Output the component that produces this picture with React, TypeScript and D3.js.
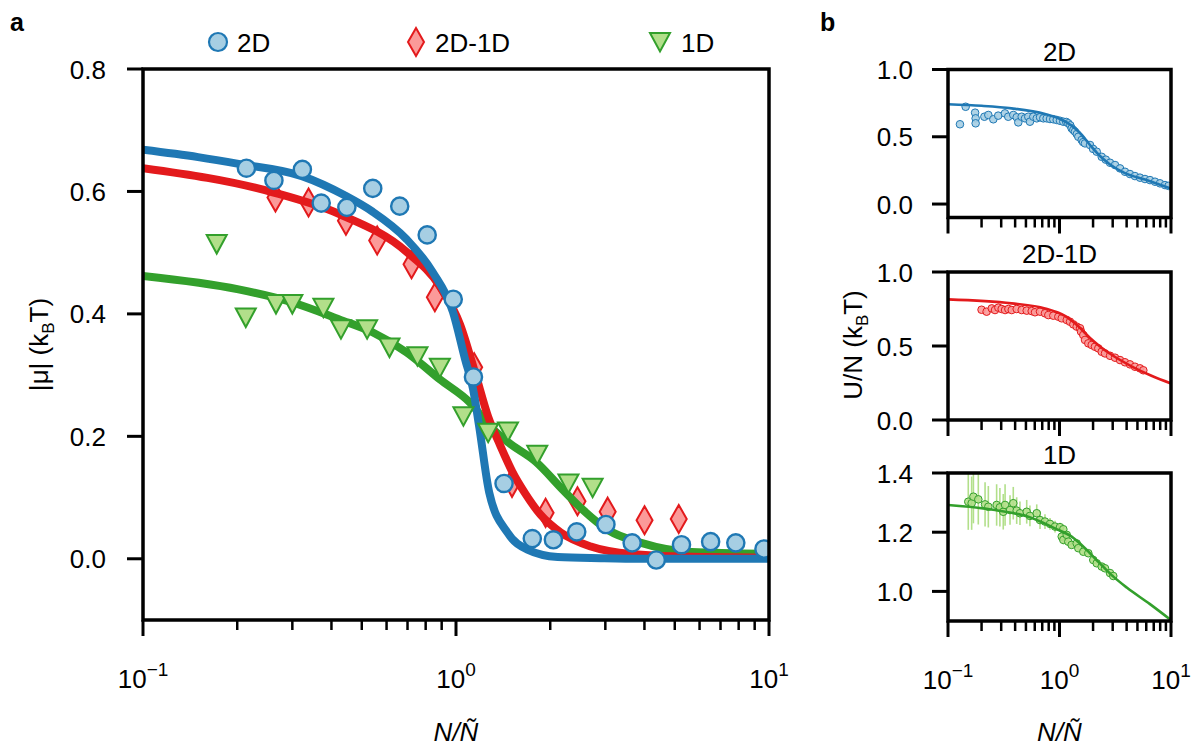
import React from 'react';
import * as d3 from 'd3';

// ---- panel a: |mu| against N/Ñ (markers)
const x2D = [0.214, 0.262, 0.323, 0.371, 0.448, 0.542, 0.661, 0.809, 0.980, 1.137, 1.424, 1.753, 2.047, 2.431, 3.013, 3.654, 4.364, 5.253, 6.509, 7.833, 9.636];
const mu2D = [0.638, 0.618, 0.636, 0.581, 0.574, 0.605, 0.576, 0.529, 0.424, 0.297, 0.123, 0.033, 0.031, 0.044, 0.056, 0.026, -0.002, 0.023, 0.028, 0.026, 0.016];

const x2D1D = [0.265, 0.338, 0.445, 0.560, 0.721, 0.856, 1.143, 1.510, 1.933, 2.444, 3.052, 4.003, 5.148];
const mu2D1D = [0.590, 0.582, 0.552, 0.520, 0.481, 0.427, 0.313, 0.124, 0.075, 0.094, 0.077, 0.063, 0.065];

const x1D = [0.172, 0.213, 0.266, 0.300, 0.377, 0.429, 0.520, 0.613, 0.753, 0.888, 1.056, 1.267, 1.466, 1.818, 2.287, 2.732];
const mu1D = [0.514, 0.394, 0.416, 0.416, 0.410, 0.375, 0.375, 0.345, 0.331, 0.312, 0.233, 0.206, 0.208, 0.170, 0.123, 0.116];

// ---- panel a: fitted curves
const fitX2D = [0.1, 0.15, 0.202, 0.322, 0.447, 0.541, 0.695, 0.843, 0.978, 1.069, 1.134, 1.186, 1.277, 1.459, 1.692, 2.113, 2.9, 3.905, 10];
const fitY2D = [0.668, 0.656, 0.645, 0.625, 0.592, 0.567, 0.522, 0.468, 0.403, 0.326, 0.277, 0.216, 0.108, 0.043, 0.015, 0.003, 0.001, 0.0, 0.0];

const fitX2D1D = [0.1, 0.258, 0.424, 0.696, 0.888, 1.030, 1.151, 1.267, 1.385, 1.514, 1.667, 1.862, 2.16, 2.697, 3.627, 6.09, 10];
const fitY2D1D = [0.638, 0.599, 0.563, 0.501, 0.445, 0.383, 0.304, 0.232, 0.185, 0.142, 0.106, 0.072, 0.043, 0.020, 0.008, 0.003, 0.002];

const fitX1D = [0.1, 0.202, 0.299, 0.424, 0.541, 0.696, 0.888, 1.109, 1.286, 1.470, 1.795, 2.192, 2.542, 3.059, 3.905, 5.654, 10];
const fitY1D = [0.462, 0.440, 0.419, 0.391, 0.370, 0.337, 0.293, 0.255, 0.216, 0.190, 0.159, 0.113, 0.080, 0.047, 0.026, 0.011, 0.008];

// ---- panel b: U/N against N/Ñ
const bX2D = [0.128, 0.144, 0.175, 0.177, 0.177, 0.212, 0.230, 0.255, 0.282, 0.324, 0.347, 0.385, 0.413, 0.427, 0.458, 0.491, 0.525, 0.543, 0.582, 0.625, 0.669, 0.716, 0.767, 0.822, 0.880, 0.944, 1.010, 1.082, 1.15, 1.199, 1.25, 1.285, 1.33, 1.377, 1.43, 1.475, 1.580, 1.63, 1.693, 1.878, 2.0, 2.157, 2.390, 2.6, 2.838, 3.148, 3.490, 3.867, 4.285, 4.750, 5.268, 5.843, 6.480, 7.187, 7.965, 8.835, 9.5];
const bU2D = [0.593, 0.723, 0.679, 0.637, 0.600, 0.649, 0.662, 0.630, 0.657, 0.674, 0.649, 0.662, 0.645, 0.607, 0.649, 0.637, 0.649, 0.612, 0.649, 0.637, 0.645, 0.637, 0.637, 0.632, 0.630, 0.625, 0.619, 0.612, 0.610, 0.600, 0.585, 0.563, 0.550, 0.538, 0.520, 0.500, 0.476, 0.460, 0.451, 0.439, 0.410, 0.389, 0.351, 0.330, 0.307, 0.290, 0.265, 0.240, 0.223, 0.208, 0.196, 0.186, 0.178, 0.166, 0.154, 0.141, 0.135];

const bX2D1D = [0.200, 0.222, 0.247, 0.264, 0.283, 0.303, 0.325, 0.348, 0.373, 0.413, 0.458, 0.508, 0.563, 0.603, 0.669, 0.741, 0.794, 0.880, 0.976, 1.047, 1.161, 1.242, 1.331, 1.426, 1.528, 1.560, 1.634, 1.693, 1.813, 1.944, 2.081, 2.229, 2.390, 2.560, 2.838, 3.148, 3.490, 3.867, 4.285, 4.750, 5.268, 5.645];
const bU2D1D = [0.745, 0.732, 0.754, 0.743, 0.759, 0.750, 0.743, 0.750, 0.743, 0.750, 0.743, 0.739, 0.736, 0.728, 0.732, 0.721, 0.709, 0.705, 0.698, 0.687, 0.676, 0.664, 0.646, 0.631, 0.620, 0.597, 0.574, 0.541, 0.518, 0.507, 0.495, 0.484, 0.461, 0.450, 0.434, 0.421, 0.405, 0.390, 0.376, 0.360, 0.349, 0.336];

const bX1D = [0.152, 0.163, 0.169, 0.187, 0.215, 0.230, 0.273, 0.292, 0.313, 0.325, 0.360, 0.385, 0.413, 0.442, 0.508, 0.543, 0.625, 0.669, 0.741, 0.822, 0.912, 1.010, 1.082, 1.047, 1.082, 1.161, 1.199, 1.285, 1.426, 1.475, 1.634, 1.813, 2.009, 2.157, 2.390, 2.560, 2.838, 3.036];
const bU1D = [1.303, 1.298, 1.320, 1.311, 1.294, 1.286, 1.292, 1.284, 1.269, 1.292, 1.275, 1.298, 1.273, 1.264, 1.269, 1.255, 1.264, 1.241, 1.236, 1.228, 1.219, 1.217, 1.210, 1.185, 1.174, 1.191, 1.168, 1.157, 1.162, 1.146, 1.134, 1.129, 1.106, 1.095, 1.084, 1.078, 1.062, 1.052];
const bErr1D = [0.095, 0.09, 0.09, 0.085, 0.075, 0.07, 0.07, 0.065, 0.06, 0.07, 0.05, 0.055, 0.045, 0.04, 0.04, 0.035, 0.03, 0.03, 0.025, 0.02, 0.02, 0.015, 0.015, 0.015, 0.015, 0.012, 0.012, 0.01, 0.01, 0.01, 0.01, 0.008, 0.008, 0.008, 0.008, 0.008, 0.008, 0.008];

const bFitX2D = [0.1, 0.2, 0.372, 0.741, 1.010, 1.242, 1.528, 1.878, 2.308, 2.838, 3.867, 5.843, 7.64, 10];
const bFitY2D = [0.742, 0.730, 0.711, 0.669, 0.632, 0.591, 0.528, 0.439, 0.357, 0.294, 0.230, 0.182, 0.149, 0.115];
const bFitX2D1D = [0.1, 0.372, 0.741, 1.119, 1.466, 1.878, 2.308, 2.958, 4.467, 6.76, 10];
const bFitY2D1D = [0.815, 0.788, 0.754, 0.703, 0.635, 0.554, 0.497, 0.439, 0.361, 0.297, 0.247];
const bFitX1D = [0.1, 0.264, 0.525, 0.912, 1.285, 1.693, 2.229, 2.938, 4.01, 6.48, 10];
const bFitY1D = [1.292, 1.275, 1.252, 1.213, 1.185, 1.146, 1.100, 1.055, 1.013, 0.957, 0.903];

const yTicksA = [0, 0.2, 0.4, 0.6, 0.8];
const decades = [0.1, 1, 10];
const decadeExp = ['\u22121', '0', '1'];
const minorX = [0.2, 0.3, 0.4, 0.5, 0.6, 0.7, 0.8, 0.9, 2, 3, 4, 5, 6, 7, 8, 9];

const FONT = '"Liberation Sans", Arial, Helvetica, sans-serif';
const FS = 26;
const COL = {
    blue: '#1f78b4', blueL: '#a6cee3',
    red: '#e31a1c', redL: '#fb9a99',
    green: '#33a02c', greenL: '#b2df8a',
};

// panel a layout
const A = {left: 143, right: 769, top: 69, bottom: 620};
const xA = d3.scaleLog().domain([0.1, 10]).range([A.left, A.right]);
const yA = d3.scaleLinear().domain([-0.1, 0.8]).range([A.bottom, A.top]);

// panel b layout
const B = {left: 948, right: 1171, h: 148};
const xB = d3.scaleLog().domain([0.1, 10]).range([B.left, B.right]);
const subplots = [
    {title: '2D', top: 69.5, domain: [-0.1, 1.0], ticks: [0, 0.5, 1.0], xs: bX2D, ys: bU2D, fx: bFitX2D, fy: bFitY2D, c: COL.blue, cl: COL.blueL},
    {title: '2D-1D', top: 272, domain: [0, 1.0], ticks: [0, 0.5, 1.0], xs: bX2D1D, ys: bU2D1D, fx: bFitX2D1D, fy: bFitY2D1D, c: COL.red, cl: COL.redL},
    {title: '1D', top: 473, domain: [0.9, 1.4], ticks: [1.0, 1.2, 1.4], xs: bX1D, ys: bU1D, fx: bFitX1D, fy: bFitY1D, c: COL.green, cl: COL.greenL},
];

const curvePath = (xs: number[], ys: number[], sx: any, sy: any) =>
    d3.line<number>()
        .x((_, i) => sx(xs[i]))
        .y(d => sy(d))
        .curve(d3.curveMonotoneX)(ys) || '';

const diamond = 'M0,-14 L8,0 L0,14 L-8,0 Z';
const triDown = 'M-10,-9 L10,-9 L0,9.5 Z';

const XTicks = ({sx, y, labels}: {sx: any, y: number, labels: boolean}) => (
    <g>
        {decades.map(v => (
            <line key={'M' + v} x1={sx(v)} x2={sx(v)} y1={y} y2={y + 16} stroke="#000" strokeWidth={3}/>
        ))}
        {minorX.map(v => (
            <line key={'m' + v} x1={sx(v)} x2={sx(v)} y1={y} y2={y + 10} stroke="#000" strokeWidth={2.5}/>
        ))}
        {labels && decades.map((v, i) => (
            <text key={'L' + v} x={sx(v)} y={y + 68} textAnchor="middle" fontSize={FS}>
                10<tspan dy={-12} fontSize={19}>{decadeExp[i]}</tspan>
            </text>
        ))}
    </g>
);

export default function App() {
    return (
        <svg width={1193} height={751} style={{position: 'absolute', left: 0, top: 0, background: '#fff'}}
             fontFamily={FONT}>
            {/* ---------- panel a ---------- */}
            <text x={10} y={31} fontSize={25} fontWeight="bold">a</text>

            {/* legend */}
            <circle cx={218} cy={42} r={9} fill={COL.blueL} stroke={COL.blue} strokeWidth={2.2}/>
            <text x={237} y={51.5} fontSize={FS}>2D</text>
            <path d={diamond} transform="translate(416,42)" fill={COL.redL} stroke={COL.red} strokeWidth={2}/>
            <text x={435} y={51.5} fontSize={FS}>2D-1D</text>
            <path d={triDown} transform="translate(660,42)" fill={COL.greenL} stroke={COL.green} strokeWidth={2}/>
            <text x={681} y={51.5} fontSize={FS}>1D</text>

            <defs>
                <clipPath id="clipA">
                    <rect x={A.left} y={A.top} width={A.right - A.left} height={A.bottom - A.top}/>
                </clipPath>
            </defs>

            <g clipPath="url(#clipA)">
                {x2D1D.map((x, i) => (
                    <path key={'d' + i} d={diamond} transform={`translate(${xA(x)},${yA(mu2D1D[i])})`}
                          fill={COL.redL} stroke={COL.red} strokeWidth={2}/>
                ))}
                <path d={curvePath(fitX1D, fitY1D, xA, yA)} fill="none" stroke={COL.green} strokeWidth={8}/>
                <path d={curvePath(fitX2D1D, fitY2D1D, xA, yA)} fill="none" stroke={COL.red} strokeWidth={8}/>
                <path d={curvePath(fitX2D, fitY2D, xA, yA)} fill="none" stroke={COL.blue} strokeWidth={8}/>
                {x1D.map((x, i) => (
                    <path key={'t' + i} d={triDown} transform={`translate(${xA(x)},${yA(mu1D[i])})`}
                          fill={COL.greenL} stroke={COL.green} strokeWidth={2}/>
                ))}
                {x2D.map((x, i) => (
                    <circle key={'c' + i} cx={xA(x)} cy={yA(mu2D[i])} r={8.6}
                            fill={COL.blueL} stroke={COL.blue} strokeWidth={2.4}/>
                ))}
            </g>

            {/* axes a */}
            <rect x={A.left} y={A.top} width={A.right - A.left} height={A.bottom - A.top}
                  fill="none" stroke="#000" strokeWidth={3.5}/>
            {yTicksA.map(v => (
                <g key={'ya' + v}>
                    <line x1={A.left - 16} x2={A.left} y1={yA(v)} y2={yA(v)} stroke="#000" strokeWidth={3}/>
                    <text x={A.left - 37} y={yA(v) + 9.5} textAnchor="end" fontSize={FS}>{v.toFixed(1)}</text>
                </g>
            ))}
            <XTicks sx={xA} y={A.bottom} labels={true}/>
            <text x={xA(1)} y={741} textAnchor="middle" fontSize={FS} fontStyle="italic">N/Ñ</text>
            <text transform={`translate(48,${(A.top + A.bottom) / 2}) rotate(-90)`} textAnchor="middle" fontSize={FS}>
                |μ| (k<tspan dy={6} fontSize={17}>B</tspan><tspan dy={-6}>T)</tspan>
            </text>

            {/* ---------- panel b ---------- */}
            <text x={820} y={31} fontSize={25} fontWeight="bold">b</text>
            {subplots.map((s, k) => {
                const sy = d3.scaleLinear().domain(s.domain).range([s.top + B.h, s.top]);
                const last = k === subplots.length - 1;
                return (
                    <g key={s.title}>
                        <defs>
                            <clipPath id={'clipB' + k}>
                                <rect x={B.left} y={s.top} width={B.right - B.left} height={B.h}/>
                            </clipPath>
                        </defs>
                        <text x={(B.left + B.right) / 2} y={s.top - 9} textAnchor="middle" fontSize={FS}>{s.title}</text>
                        <g clipPath={`url(#clipB${k})`}>
                            {s.title === '1D' && s.xs.map((x, i) => (
                                <line key={'e' + i} x1={xB(x)} x2={xB(x)}
                                      y1={sy(s.ys[i] - bErr1D[i])} y2={sy(s.ys[i] + bErr1D[i])}
                                      stroke={COL.greenL} strokeWidth={1.6}/>
                            ))}
                            {s.xs.map((x, i) => (
                                <circle key={'p' + i} cx={xB(x)} cy={sy(s.ys[i])} r={3.8}
                                        fill={s.cl} fillOpacity={0.9} stroke={s.c} strokeWidth={1}/>
                            ))}
                            <path d={curvePath(s.fx, s.fy, xB, sy)} fill="none" stroke={s.c} strokeWidth={2.6}/>
                        </g>
                        <rect x={B.left} y={s.top} width={B.right - B.left} height={B.h}
                              fill="none" stroke="#000" strokeWidth={3.5}/>
                        {s.ticks.map(v => (
                            <g key={'yb' + v}>
                                <line x1={B.left - 16} x2={B.left} y1={sy(v)} y2={sy(v)} stroke="#000" strokeWidth={3}/>
                                <text x={B.left - 35} y={sy(v) + 9.5} textAnchor="end" fontSize={FS}>{v.toFixed(1)}</text>
                            </g>
                        ))}
                        <XTicks sx={xB} y={s.top + B.h} labels={last}/>
                    </g>
                );
            })}
            <text x={xB(1)} y={741} textAnchor="middle" fontSize={FS} fontStyle="italic">N/Ñ</text>
            <text transform={`translate(862,345) rotate(-90)`} textAnchor="middle" fontSize={FS}>
                U/N (k<tspan dy={6} fontSize={17}>B</tspan><tspan dy={-6}>T)</tspan>
            </text>
        </svg>
    );
}
